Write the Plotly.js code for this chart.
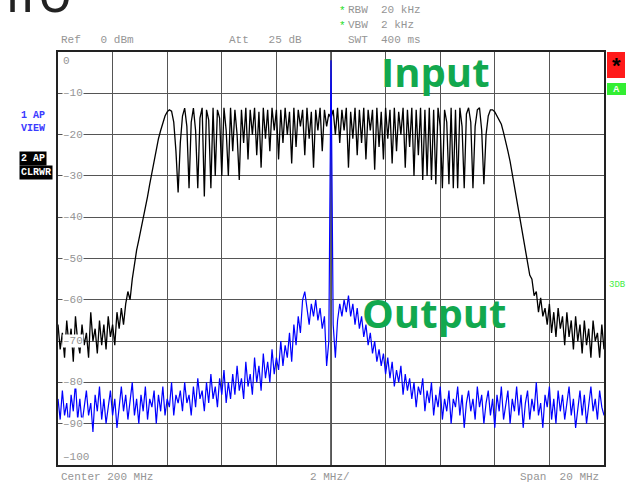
<!DOCTYPE html>
<html>
<head>
<meta charset="utf-8">
<script src="https://cdn.plot.ly/plotly-3.0.1.min.js"></script>
<style>
  html, body { margin: 0; padding: 0; background: #ffffff; }
  #chart { width: 634px; height: 483px; }
</style>
</head>
<body>
<div id="chart"></div>
<script>
// Sweep grid (spectrum analyzer): 190 MHz .. 210 MHz, 251 points
const startFreqMHz = 190;
const stepFreqMHz = 0.08;

// Trace 2 (black, "Input") level in dBm
const inputDbm = [
  -66, -72, -68, -74, -65, -71, -67, -75, -64, -70,
  -73, -66, -71, -68, -74, -63, -70, -67, -73, -65,
  -71, -66, -72, -64, -69, -66, -71, -63, -67, -62,
  -66, -61, -58, -60, -55, -51, -48, -45.5, -43, -40.5,
  -37.5, -35, -32, -29, -26.5, -24, -21, -19, -17, -15.5,
  -14.5, -14, -14.3, -17, -24, -34, -22, -15.5, -13.6, -18,
  -33, -17, -13.6, -19, -33, -16, -13.5, -35, -14, -16.5,
  -33, -13.5, -30, -14, -16, -30, -13.5, -19, -30, -13.5,
  -24, -14, -20, -31, -14, -22, -13.5, -26, -14, -20,
  -13.5, -25, -14.5, -28, -13.5, -21, -14, -24, -13.5, -19,
  -14, -26, -14, -22, -13.5, -20, -14.5, -27, -13.5, -23,
  -14, -18, -14, -25, -13.5, -21, -14.5, -28, -14, -19,
  -13.5, -24, -14, -18, -15,
  -16, -14, -20, -13.5, -22, -14, -19, -13.5, -28, -14.5,
  -21, -13.5, -25, -14, -22, -13.5, -26, -14, -19, -14,
  -28.5, -13.5, -23, -14.5, -26, -13.5, -21, -14, -27, -13.5,
  -24, -14.5, -20, -13.5, -28, -14, -23, -13.5, -30, -14,
  -25, -13.5, -31, -14, -30, -13.5, -31, -14, -32, -13.5,
  -18, -33, -14, -17, -32, -13.5, -33, -14, -33, -13.5,
  -18, -33, -15, -13.5, -17, -33, -18, -14, -13.5, -19,
  -32, -20, -15.5, -14, -14, -14.5, -15.5, -16.5, -17.5, -19.5,
  -21.5, -24, -26.5, -29.5, -32.5, -35, -38.5, -42, -45, -48,
  -50, -54, -55, -59, -58, -63, -59.5, -64, -62, -66,
  -61, -68, -63, -69, -62, -67, -64, -71, -63, -69,
  -65, -72, -64, -70, -66, -73, -65, -71, -67, -74,
  -65, -70, -68, -74, -66, -72
];

// Trace 1 (blue, "Output") level in dBm
const outputDbm = [
  -84, -89, -82, -88, -85, -91, -83, -87, -80, -89,
  -84, -90, -86, -82, -88, -85, -92, -83, -87, -81,
  -89, -84, -90, -86, -82, -88, -84, -91, -85, -81,
  -87, -83, -89, -85, -80, -88, -84, -90, -83, -87,
  -81, -89, -84, -86, -82, -90, -83, -87, -81, -88,
  -84, -86, -80, -88, -83, -85,
  -82, -87, -80, -85, -83, -88, -81, -86, -79, -84,
  -82, -87, -80, -85, -78, -84, -81, -86, -79, -83,
  -77, -85, -80, -84, -78, -83, -76, -82, -79, -84,
  -75, -81, -78, -83, -74, -80, -76, -82, -73, -79,
  -75, -80, -72, -78, -74, -77, -70, -76, -71, -74,
  -68, -75, -66, -71, -64, -68, -60, -58, -62, -66,
  -61, -64, -60, -65, -62, -67, -64, -76, -70, -2,
  -66, -74, -65, -61, -64, -60, -63, -59, -64, -61,
  -66, -62, -67, -64, -69, -66, -71, -68, -73, -70,
  -75, -72, -76, -73, -78, -74, -79, -75, -81, -77,
  -80, -76, -83, -78, -82, -79, -84, -80, -86, -81,
  -83, -79, -87, -82, -85, -80, -88, -83, -86, -81,
  -89, -84, -87, -82, -90, -84, -86, -81, -88, -83,
  -91, -85, -82, -87, -84, -89, -81, -86, -83, -90,
  -85, -82, -88, -84, -91, -83, -87, -81, -89, -85,
  -82, -90, -84, -87, -81, -88, -83, -91, -85, -82,
  -89, -84, -87, -80, -88, -85, -91, -83, -86, -81,
  -89, -84, -90, -82, -87, -83, -89, -85, -81, -88,
  -84, -91, -86, -82, -88, -83, -90, -85, -81, -87,
  -84, -89, -82, -86, -88
];

// Axis tick labels (drawn inside the grid like the analyzer screen)
const yTickValues = [0, -10, -20, -30, -40, -50, -60, -70, -80, -90, -100];
const yTickLabels = ["0", "-10", "-20", "-30", "-40", "-50", "-60", "-70", "-80", "-90", "-100"];

// ---- geometry helpers (page pixels -> paper coords) ----
const W = 634, H = 483;
const M = { l: 58, r: 30, t: 52, b: 18 };
const PW = W - M.l - M.r, PH = H - M.t - M.b;
const px = x => (x - M.l) / PW;
const py = y => (H - M.b - y) / PH;

const mono = "Liberation Mono, Courier New, monospace";
const grey = "#959595";
const NB = "\u00A0";

const traces = [
  {
    type: "scatter", mode: "lines", name: "Input",
    x0: startFreqMHz, dx: stepFreqMHz, y: inputDbm,
    line: { color: "#000000", width: 1.3 }, hoverinfo: "skip"
  },
  {
    type: "scatter", mode: "lines", name: "Output",
    x0: startFreqMHz, dx: stepFreqMHz, y: outputDbm,
    line: { color: "#0000ff", width: 1.2 }, hoverinfo: "skip"
  }
];

const ann = [];
function txt(text, x, y, opts) {
  ann.push(Object.assign({
    text: text, xref: "paper", yref: "paper", x: px(x), y: py(y),
    xanchor: "left", yanchor: "middle", showarrow: false,
    font: { family: mono, size: 11, color: grey }
  }, opts || {}));
}

// y tick labels inside the grid
yTickValues.forEach((v, k) => {
  let yy;
  if (v === 0) yy = 61;
  else if (v === -100) yy = 457;
  else yy = M.t + (-v / 100) * PH;
  ann.push({
    text: yTickLabels[k].replace(/-/g, "\u2013"), xref: "paper", yref: "paper",
    x: px(62), y: py(yy), xanchor: "left", yanchor: "middle", showarrow: false,
    bgcolor: "#ffffff", borderpad: 0,
    font: { family: mono, size: 11, color: grey }
  });
});

// header texts
txt("Ref" + NB + NB + NB + "0" + NB + "dBm", 59, 40);
txt("Att" + NB + NB + NB + "25" + NB + "dB", 227, 40);
txt("SWT" + NB + NB + "400" + NB + "ms", 346, 40);
txt("RBW" + NB + NB + "20" + NB + "kHz", 346, 10);
txt("VBW" + NB + NB + "2" + NB + "kHz", 346, 25);
txt("*", 337, 11, { font: { family: mono, size: 11, color: "#22dd22" } });
txt("*", 337, 26, { font: { family: mono, size: 11, color: "#22dd22" } });

// footer texts
txt("Center" + NB + "200" + NB + "MHz", 59, 477);
txt("2" + NB + "MHz/", 330, 477, { xanchor: "center" });
txt("Span" + NB + NB + "20" + NB + "MHz", 601, 477, { xanchor: "right" });

// left trace info
txt("1" + NB + "AP", 19, 116, { font: { family: mono, size: 10, color: "#3b3bff", weight: "bold" } });
txt("VIEW", 19, 129, { font: { family: mono, size: 10, color: "#3b3bff", weight: "bold" } });
txt("2" + NB + "AP", 19, 158, { bgcolor: "#000000", borderpad: 1, font: { family: mono, size: 10, color: "#ffffff", weight: "bold" } });
txt("CLRWR", 19, 172, { bgcolor: "#000000", borderpad: 1, font: { family: mono, size: 10, color: "#ffffff", weight: "bold" } });

// right side marks
txt("*", 616, 65, { xanchor: "center", font: { family: "Liberation Sans, Arial, sans-serif", size: 22, color: "#000000", weight: "bold" } });
txt("A", 616.5, 89, { xanchor: "center", font: { family: "Liberation Sans, Arial, sans-serif", size: 9, color: "#ffffff", weight: "bold" } });
txt("3DB", 607, 285, { font: { family: mono, size: 9, color: "#44ee44" } });

// large labels
txt("Input", 435, 71, { xanchor: "center", font: { family: "Open Sans, Noto Sans, sans-serif", size: 40, color: "#12a84e", weight: "bold" } });
txt("Output", 434, 312, { xanchor: "center", font: { family: "Open Sans, Noto Sans, sans-serif", size: 40, color: "#12a84e", weight: "bold" } });

// cropped heading at the very top-left
txt("nfo", -17, -10, { font: { family: "Open Sans, Noto Sans, sans-serif", size: 56, color: "#222222" } });

const shapes = [
  { type: "rect", xref: "paper", yref: "paper", x0: px(607), x1: px(625), y0: py(78), y1: py(52),
    fillcolor: "#ff1a1a", line: { width: 0 } },
  { type: "rect", xref: "paper", yref: "paper", x0: px(607), x1: px(626), y0: py(95), y1: py(83),
    fillcolor: "#33ee33", line: { width: 0 } },
  { type: "line", xref: "x", yref: "paper", x0: 200, x1: 200, y0: 0, y1: 1,
    line: { color: "#333333", width: 1.5 }, layer: "below" }
];

const layout = {
  width: W, height: H,
  margin: M,
  paper_bgcolor: "#ffffff", plot_bgcolor: "#ffffff",
  showlegend: false,
  xaxis: {
    range: [190, 210], dtick: 2, tick0: 190, showgrid: true, gridcolor: "#555555", gridwidth: 1,
    zeroline: false, showticklabels: false, ticks: "",
    showline: true, mirror: true, linecolor: "#222222", linewidth: 2, fixedrange: true
  },
  yaxis: {
    range: [-100, 0], dtick: 10, tick0: 0, showgrid: true, gridcolor: "#555555", gridwidth: 1,
    zeroline: false, showticklabels: false, ticks: "",
    showline: true, mirror: true, linecolor: "#222222", linewidth: 2, fixedrange: true
  },
  annotations: ann,
  shapes: shapes
};

Plotly.newPlot("chart", traces, layout, { displayModeBar: false, staticPlot: true });
</script>
</body>
</html>
